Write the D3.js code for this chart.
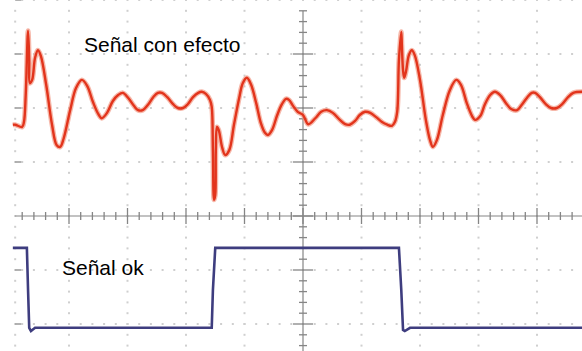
<!DOCTYPE html>
<html>
<head>
<meta charset="utf-8">
<script src="https://cdn.jsdelivr.net/npm/d3@7"></script>
<style>
  html, body { margin: 0; padding: 0; background: #fff; }
  svg { display: block; }
</style>
</head>
<body>
<svg id="scope" width="582" height="351"></svg>
<script>
// time in divisions (0 = centre of screen), amplitude in divisions (0 = centre line)
const redTime = [-4.96, -4.92, -4.80, -4.77, -4.74, -4.70, -4.68, -4.67, -4.63, -4.58, -4.53, -4.48, -4.39, -4.29, -4.21, -4.15, -4.09, -3.98, -3.88, -3.78, -3.69, -3.59, -3.50, -3.44, -3.35, -3.25, -3.16, -3.08, -2.99, -2.89, -2.82, -2.74, -2.65, -2.56, -2.48, -2.41, -2.32, -2.22, -2.14, -2.05, -1.97, -1.88, -1.79, -1.73, -1.66, -1.59, -1.56, -1.54, -1.52, -1.50, -1.49, -1.47, -1.44, -1.38, -1.33, -1.26, -1.18, -1.09, -1.03, -0.96, -0.89, -0.80, -0.72, -0.65, -0.60, -0.53, -0.44, -0.36, -0.29, -0.24, -0.17, -0.09, 0, 0.09, 0.21, 0.31, 0.41, 0.51, 0.63, 0.72, 0.80, 0.89, 0.97, 1.06, 1.15, 1.25, 1.35, 1.44, 1.52, 1.57, 1.61, 1.64, 1.68, 1.69, 1.71, 1.73, 1.76, 1.81, 1.86, 1.91, 2.00, 2.10, 2.17, 2.22, 2.29, 2.39, 2.51, 2.62, 2.70, 2.80, 2.89, 2.94, 3.03, 3.11, 3.20, 3.28, 3.37, 3.47, 3.56, 3.66, 3.74, 3.83, 3.91, 3.97, 4.05, 4.15, 4.24, 4.34, 4.43, 4.53, 4.62, 4.77];
const redValue = [1.69, 1.69, 1.65, 1.74, 2.24, 3.43, 2.89, 2.46, 2.52, 2.93, 3.07, 2.96, 2.43, 1.69, 1.31, 1.28, 1.44, 1.96, 2.37, 2.52, 2.41, 2.11, 1.89, 1.81, 1.91, 2.13, 2.24, 2.28, 2.19, 2.04, 1.96, 1.96, 2.06, 2.20, 2.28, 2.28, 2.20, 2.07, 2.00, 2.00, 2.07, 2.20, 2.28, 2.30, 2.26, 2.15, 2.02, 1.22, 0.30, 0.39, 1.22, 1.65, 1.59, 1.26, 1.13, 1.22, 1.69, 2.19, 2.46, 2.56, 2.44, 2.09, 1.72, 1.54, 1.50, 1.59, 1.87, 2.07, 2.17, 2.15, 2.04, 1.93, 1.87, 1.70, 1.81, 1.93, 1.96, 1.91, 1.78, 1.70, 1.69, 1.76, 1.87, 1.93, 1.91, 1.83, 1.74, 1.69, 1.67, 1.74, 1.93, 2.89, 3.41, 3.17, 2.70, 2.56, 2.67, 2.98, 3.07, 2.98, 2.52, 1.78, 1.41, 1.28, 1.41, 1.87, 2.33, 2.52, 2.43, 2.09, 1.85, 1.78, 1.85, 2.07, 2.24, 2.30, 2.24, 2.09, 1.98, 1.96, 2.06, 2.19, 2.28, 2.28, 2.20, 2.07, 2.00, 2.00, 2.07, 2.20, 2.28, 2.30];

const blueTime = [-4.96, -4.72, -4.70, -4.68, -4.65, -4.58, -1.56, -1.54, -1.50, 1.64, 1.68, 1.71, 1.74, 1.83, 4.77];
const blueValue = [-0.59, -0.59, -1.37, -2.07, -2.13, -2.07, -2.07, -1.37, -0.59, -0.59, -1.37, -2.11, -2.13, -2.07, -2.07];

const labels = ["Señal con efecto", "Señal ok"];

const width = 582, height = 351;
const svg = d3.select("#scope");

// 10 x 8 division graticule, partly cropped by the picture
const x = d3.scaleLinear().domain([-5, 5]).range([10.5, 595.5]);
const y = d3.scaleLinear().domain([-4, 4]).range([432, 0]);

const grid = svg.append("g").attr("class", "grid");
const dotColor = "#cfcfcf";

// dotted horizontal division lines
const hLines = [4, 3, 2, 1, -1, -2, -3];
const hSteps = d3.range(-24, 25).map(d => d / 5);
hLines.forEach(v => {
  grid.selectAll(null).data(hSteps).enter().append("rect")
    .attr("x", d => x(d) - 1).attr("y", y(v) - 1)
    .attr("width", 2).attr("height", 2)
    .attr("fill", dotColor);
});

// dotted vertical division lines
const vLines = [-4, -3, -2, -1, 1, 2, 3, 4];
const vSteps = d3.range(-19, 20).map(d => d / 5);
vLines.forEach(t => {
  grid.selectAll(null).data(vSteps).enter().append("rect")
    .attr("x", x(t) - 1).attr("y", d => y(d) - 1)
    .attr("width", 2).attr("height", 2)
    .attr("fill", dotColor);
});

// left border column of the screen
const leftEdge = -4.92;
grid.selectAll(null).data(vSteps).enter().append("rect")
  .attr("x", x(leftEdge) - 1).attr("y", d => y(d) - 1)
  .attr("width", 2).attr("height", 2)
  .attr("fill", dotColor);
grid.selectAll(null).data(hLines).enter().append("line")
  .attr("x1", x(leftEdge)).attr("x2", x(leftEdge) + 6)
  .attr("y1", d => y(d)).attr("y2", d => y(d))
  .attr("stroke", "#999").attr("stroke-width", 1.5);

// centre axes with minor ticks
const axisColor = "#858585";
const axes = svg.append("g").attr("class", "axes");

axes.append("line")
  .attr("x1", x(leftEdge)).attr("x2", width)
  .attr("y1", y(0)).attr("y2", y(0))
  .attr("stroke", axisColor).attr("stroke-width", 1.2);
axes.append("line")
  .attr("x1", x(0)).attr("x2", x(0))
  .attr("y1", y(3.8)).attr("y2", height)
  .attr("stroke", axisColor).attr("stroke-width", 1.2);

const hTicks = d3.range(-24, 25).map(d => d / 5).filter(d => x(d) < width);
axes.selectAll(null).data(hTicks).enter().append("line")
  .attr("x1", d => x(d)).attr("x2", d => x(d))
  .attr("y1", d => y(0) - (Math.abs(d % 1) < 1e-6 ? 8 : 4))
  .attr("y2", d => y(0) + (Math.abs(d % 1) < 1e-6 ? 8 : 4))
  .attr("stroke", axisColor).attr("stroke-width", 1.3);

const vTicks = d3.range(-20, 20).map(d => d / 5).filter(d => y(d) < height);
axes.selectAll(null).data(vTicks).enter().append("line")
  .attr("y1", d => y(d)).attr("y2", d => y(d))
  .attr("x1", d => x(0) - (Math.abs(d % 1) < 1e-6 ? 10 : 4))
  .attr("x2", d => x(0) + (Math.abs(d % 1) < 1e-6 ? 10 : 4))
  .attr("stroke", axisColor).attr("stroke-width", 1.3);

// traces
const red = redTime.map((t, i) => [t, redValue[i]]);
const blue = blueTime.map((t, i) => [t, blueValue[i]]);

const redLine = d3.line()
  .x(d => x(d[0])).y(d => y(d[1]))
  .curve(d3.curveCatmullRom.alpha(0.5));
const blueLine = d3.line()
  .x(d => x(d[0])).y(d => y(d[1]));

svg.append("path").datum(red)
  .attr("d", redLine)
  .attr("fill", "none")
  .attr("stroke", "#f29a86").attr("stroke-opacity", 0.7)
  .attr("stroke-width", 5).attr("stroke-linejoin", "round");
svg.append("path").datum(red)
  .attr("d", redLine)
  .attr("fill", "none")
  .attr("stroke", "#e2341c")
  .attr("stroke-width", 2.4).attr("stroke-linejoin", "round");

svg.append("path").datum(blue)
  .attr("d", blueLine)
  .attr("fill", "none")
  .attr("stroke", "#3e3d7f")
  .attr("stroke-width", 2.6);

// labels
svg.append("text")
  .attr("x", 84).attr("y", 52)
  .attr("font-family", "'Liberation Sans', Arial, sans-serif")
  .attr("font-size", 21)
  .attr("fill", "#000")
  .text(labels[0]);
svg.append("text")
  .attr("x", 62).attr("y", 275)
  .attr("font-family", "'Liberation Sans', Arial, sans-serif")
  .attr("font-size", 21)
  .attr("fill", "#000")
  .text(labels[1]);
</script>
</body>
</html>
